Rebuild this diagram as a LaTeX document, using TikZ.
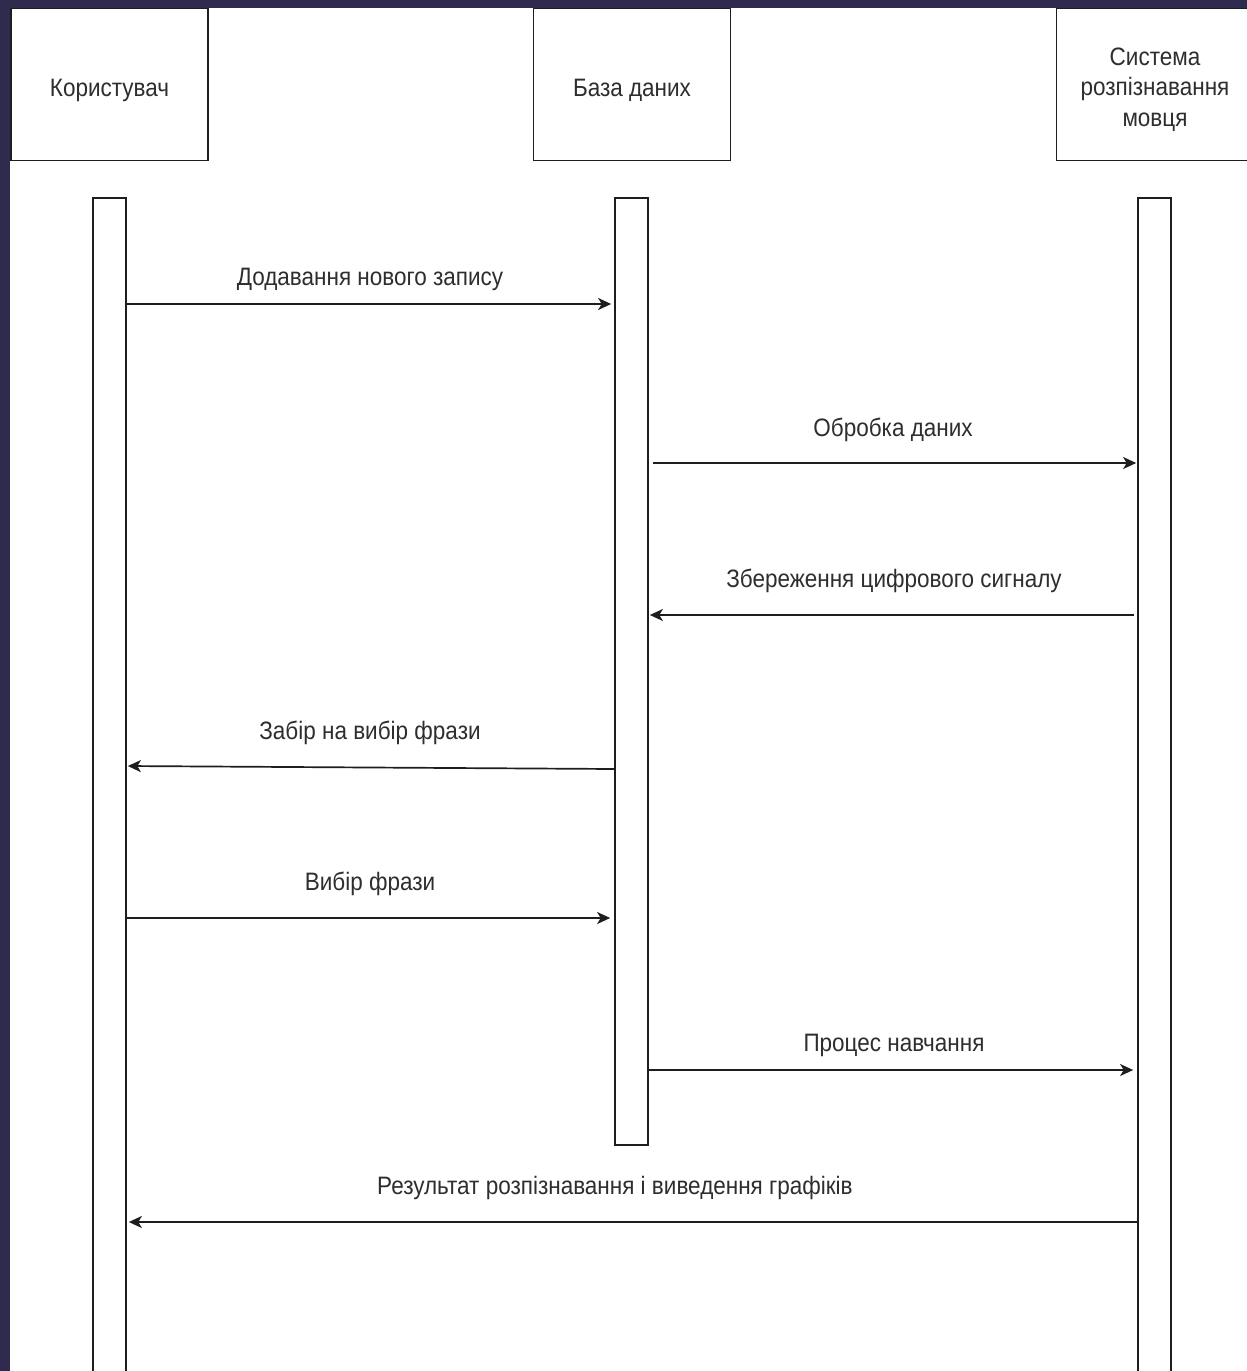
\documentclass[tikz,border=0pt]{standalone}
\usepackage{fontspec}
\setmainfont{Liberation Sans}
\usetikzlibrary{arrows.meta,calc}
\definecolor{navy}{HTML}{2E2B4E}
\definecolor{ink}{HTML}{1E1E1E}
\definecolor{txt}{HTML}{2E2E2E}
\newcommand{\tx}[1]{\scalebox{1}[1.12]{#1}}
\begin{document}
\begin{tikzpicture}[x=1pt,y=-1pt,
  every node/.style={font=\fontsize{22.5}{30.5}\selectfont, text=txt},
  actorbox/.style={draw=ink, line width=1.7pt, fill=white, minimum width=197pt, minimum height=152pt, inner sep=0pt, align=center},
  actor/.style={actorbox, text height=28pt, text depth=4pt},
  bar/.style={draw=ink, line width=1.7pt, fill=white, minimum width=33pt, inner sep=0pt},
  msg/.style={draw=ink, line width=1.7pt, -{Stealth[length=13pt,width=12pt,inset=3.5pt]}},
  lbl/.style={anchor=base, inner sep=0pt}]
\useasboundingbox (0,0) rectangle (1247,1371);
\fill[white] (0,0) rectangle (1247,1371);
% boxes
\node[actor] (user) at (109.5,84.5) {\tx{Користувач}};
\node[actor] (db) at (632,84.5) {\tx{База даних}};
\node[actorbox] (srs) at (1155,84.5) {\raisebox{-10pt}[0pt][0pt]{\begin{minipage}{190pt}\centering\fontsize{22.5}{30.5}\selectfont \tx{Система}\\\tx{розпізнавання}\\\tx{мовця}\end{minipage}}};
% lifelines
\node[bar, minimum height=1182pt] (b1) at (109.5,789) {};
\node[bar, minimum height=947pt] (b2) at (631.5,671.5) {};
\node[bar, minimum height=1182pt] (b3) at (1154.5,789) {};
% border
\fill[navy] (0,0) rectangle (1247,8);
\fill[navy] (0,0) rectangle (10,1371);
% messages
\draw[msg, shorten >=3pt] (b1.east |- 0,304) -- (b2.west |- 0,304);
\draw[msg, shorten <=4pt, shorten >=1pt] (b2.east |- 0,463) -- (b3.west |- 0,463);
\draw[msg, shorten <=3pt, shorten >=1pt] (b3.west |- 0,615) -- (b2.east |- 0,615);
\draw[msg, shorten >=1pt] (b2.west |- 0,769) -- (b1.east |- 0,766);
\draw[msg, shorten >=4pt] (b1.east |- 0,918) -- (b2.west |- 0,918);
\draw[msg, shorten >=4pt] (b2.east |- 0,1070) -- (b3.west |- 0,1070);
\draw[msg, shorten >=2pt] (b3.west |- 0,1222) -- (b1.east |- 0,1222);
% labels
\node[lbl] (l1) at (370,285) {\tx{Додавання нового запису}};
\node[lbl] (l2) at (893,436) {\tx{Обробка даних}};
\node[lbl] (l3) at (894,587) {\tx{Збереження цифрового сигналу}};
\node[lbl] (l4) at (370,739) {\tx{Забір на вибір фрази}};
\node[lbl] (l5) at (370,890) {\tx{Вибір фрази}};
\node[lbl] (l6) at (894,1051) {\tx{Процес навчання}};
\node[lbl] (l7) at (615,1194) {\tx{Результат розпізнавання і виведення графіків}};
\end{tikzpicture}
\end{document}
